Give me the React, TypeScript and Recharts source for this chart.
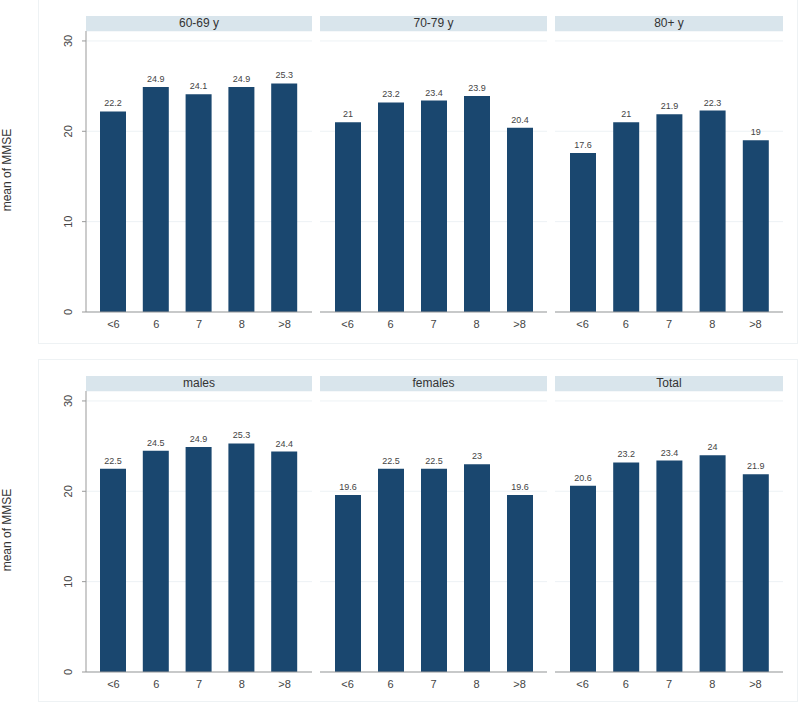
import { BarChart, Bar, XAxis, YAxis, CartesianGrid, LabelList } from "recharts";

const categories = ["<6", "6", "7", "8", ">8"];
const ageGroups = ["60-69 y", "70-79 y", "80+ y"];
const sexGroups = ["males", "females", "Total"];

const age6069 = [22.2, 24.9, 24.1, 24.9, 25.3];
const age7079 = [21, 23.2, 23.4, 23.9, 20.4];
const age80 = [17.6, 21, 21.9, 22.3, 19];
const males = [22.5, 24.5, 24.9, 25.3, 24.4];
const females = [19.6, 22.5, 22.5, 23, 19.6];
const total = [20.6, 23.2, 23.4, 24, 21.9];

const yTicks = [0, 10, 20, 30];

const FONT = '"Liberation Sans", Arial, Helvetica, sans-serif';
const BAR_COLOR = "#1a476f";
const STRIP_COLOR = "#d9e5ec";

// column x ranges of the plot regions
const cols = [
  { left: 86, width: 226 },
  { left: 320, width: 227 },
  { left: 555, width: 228 },
];
const PLOT_H = 281;
const AXIS_W = 86;

const YTick = (props: any) => {
  const { x, y, payload } = props;
  return (
    <text
      x={x}
      y={y}
      transform={`rotate(-90 ${x} ${y})`}
      textAnchor="middle"
      fontSize={11}
      fill="#444"
      fontFamily={FONT}
    >
      {payload.value}
    </text>
  );
};

interface PanelProps {
  title: string;
  values: number[];
  col: number;
  top: number;
}

const Panel = ({ title, values, col, top }: PanelProps) => {
  const data = categories.map((c, i) => ({ category: c, value: values[i] }));
  const c = cols[col];
  const first = col === 0;
  const chartLeft = first ? c.left - AXIS_W : c.left;
  const chartWidth = first ? c.width + AXIS_W : c.width;
  return (
    <>
      <div
        style={{
          position: "absolute",
          left: c.left,
          top: top - 15,
          width: c.width,
          height: 15,
          background: STRIP_COLOR,
          fontFamily: FONT,
          fontSize: 12,
          color: "#333",
          textAlign: "center",
          lineHeight: "15px",
        }}
      >
        {title}
      </div>
      <div style={{ position: "absolute", left: chartLeft, top }}>
        <BarChart
          width={chartWidth}
          height={PLOT_H + 30}
          data={data}
          margin={{ top: 0, right: 0, bottom: 0, left: 0 }}
        >
          <CartesianGrid vertical={false} stroke="#edf2f5" />
          <XAxis
            dataKey="category"
            axisLine={{ stroke: "#999" }}
            tickLine={false}
            tick={{ fontSize: 11, fill: "#444", fontFamily: FONT }}
            padding={{ left: 6, right: 6 }}
            height={30}
          />
          <YAxis
            hide={!first}
            width={AXIS_W}
            domain={[0, 31.1]}
            ticks={yTicks}
            axisLine={{ stroke: "#999" }}
            tickLine={{ stroke: "#999" }}
            tickSize={4}
            tickMargin={10}
            tick={<YTick />}
          />
          <Bar dataKey="value" fill={BAR_COLOR} barSize={26} isAnimationActive={false}>
            <LabelList
              dataKey="value"
              position="top"
              offset={5}
              style={{ fontSize: 9, fill: "#444", fontFamily: FONT }}
            />
          </Bar>
        </BarChart>
      </div>
    </>
  );
};

const YTitle = ({ cy }: { cy: number }) => (
  <svg
    width={20}
    height={200}
    style={{ position: "absolute", left: 0, top: cy - 100 }}
  >
    <text
      x={11}
      y={100}
      transform="rotate(-90 11 100)"
      textAnchor="middle"
      fontSize={12}
      fill="#333"
      fontFamily={FONT}
    >
      mean of MMSE
    </text>
  </svg>
);

const App = () => {
  const topRow = [age6069, age7079, age80];
  const bottomRow = [males, females, total];
  return (
    <div
      style={{
        position: "absolute",
        left: 0,
        top: 0,
        width: 800,
        height: 704,
        background: "#fff",
        overflow: "hidden",
      }}
    >
      <div
        style={{
          position: "absolute",
          left: 38,
          top: -1,
          width: 758,
          height: 343,
          border: "1px solid #eef2f4",
        }}
      />
      <div
        style={{
          position: "absolute",
          left: 38,
          top: 359,
          width: 758,
          height: 341,
          border: "1px solid #eef2f4",
        }}
      />
      <YTitle cy={170} />
      <YTitle cy={530} />
      {ageGroups.map((g, i) => (
        <Panel key={g} title={g} values={topRow[i]} col={i} top={31} />
      ))}
      {sexGroups.map((g, i) => (
        <Panel key={g} title={g} values={bottomRow[i]} col={i} top={391} />
      ))}
    </div>
  );
};

export default App;
